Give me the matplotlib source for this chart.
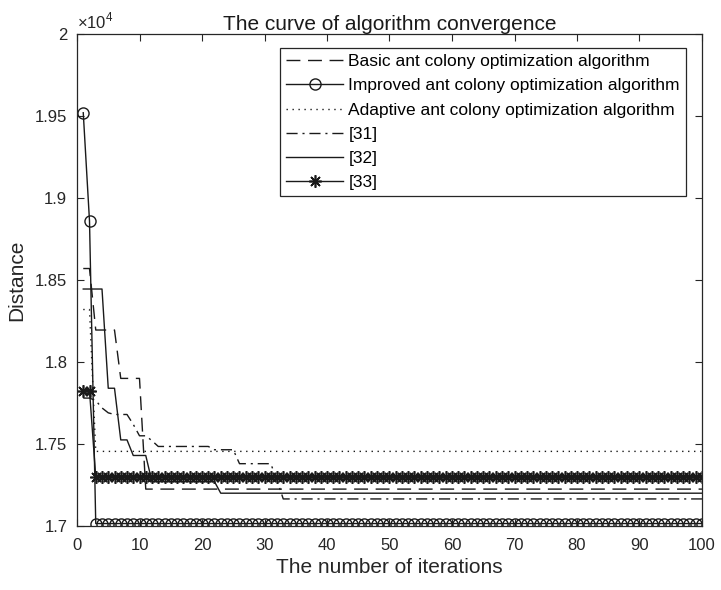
import matplotlib
matplotlib.use("Agg")
import matplotlib.pyplot as plt
from matplotlib.ticker import FixedLocator

plt.rcParams['font.family'] = ['Liberation Sans', 'DejaVu Sans']
plt.rcParams['mathtext.fontset'] = 'custom'
plt.rcParams['mathtext.rm'] = 'Liberation Sans'

# ---- data (distance values) ----
iterations = list(range(1, 101))
basic = [18570, 18570, 18195, 18195, 18195, 18195, 17900, 17900, 17900, 17900] + [17225] * 90
improved = [19520, 18860] + [17015] * 98
adaptive = [18320, 18320] + [17455] * 98
ref31 = ([17780, 17780, 17765, 17720, 17690, 17680, 17680, 17680, 17620, 17550, 17550, 17520]
         + [17485] * 9 + [17465] * 4 + [17380] * 6 + [17280] + [17165] * 68)
ref32 = [18445] * 4 + [17840] * 2 + [17525] * 2 + [17430] * 3 + [17270] * 11 + [17200] * 78
ref33 = [17825, 17825] + [17300] * 98

labels = ['Basic ant colony optimization algorithm',
          'Improved ant colony optimization algorithm',
          'Adaptive ant colony optimization algorithm',
          '[31]', '[32]', '[33]']

y_ticks = [1.7, 1.75, 1.8, 1.85, 1.9, 1.95, 2.0]
y_ticklabels = ['1.7', '1.75', '1.8', '1.85', '1.9', '1.95', '2']
x_ticks = [0, 10, 20, 30, 40, 50, 60, 70, 80, 90, 100]

scale = 1e4
fig = plt.figure(figsize=(7.21, 5.90), dpi=100)
ax = fig.add_axes([77/721, 64/590, 625/721, 492/590])

col = '#1a1a1a'
lw = 1.0
ax.plot(iterations, [v/scale for v in basic], linestyle=(0, (10, 5.5)), color=col, lw=lw, label=labels[0])
ax.plot(iterations, [v/scale for v in improved], '-', color=col, lw=lw, marker='o', ms=8,
        mfc='none', mec=col, mew=1.0, label=labels[1])
ax.plot(iterations, [v/scale for v in adaptive], linestyle=(0, (1, 3.3)), color=col, lw=lw, label=labels[2])
ax.plot(iterations, [v/scale for v in ref31], linestyle=(0, (8, 3.5, 1.5, 3.5)), color=col, lw=lw, label=labels[3])
ax.plot(iterations, [v/scale for v in ref32], '-', color=col, lw=lw, label=labels[4])
ax.plot(iterations, [v/scale for v in ref33], '-', color=col, lw=lw, marker=(8, 2, 0), ms=9,
        mec=col, mew=1.2, label=labels[5])

ax.set_xlim(0, 100)
ax.set_ylim(1.7, 2.0)
ax.xaxis.set_major_locator(FixedLocator(x_ticks))
ax.set_yticks(y_ticks)
ax.set_yticklabels(y_ticklabels)
ax.tick_params(direction='in', length=5, width=0.8, top=True, right=True, labelsize=12,
               colors='#262626')
ax.tick_params(axis='x', pad=9)
ax.tick_params(axis='y', pad=7)
for s in ax.spines.values():
    s.set_color('#262626')
    s.set_linewidth(0.9)

ax.set_xlabel('The number of iterations', fontsize=15, color='#262626', labelpad=3)
ax.set_ylabel('Distance', fontsize=15, color='#262626', labelpad=6)
ax.set_title('The curve of algorithm convergence', fontsize=15, color='#1a1a1a', pad=3)
ax.text(0.0, 1.006, '×10$^{4}$', transform=ax.transAxes, fontsize=12, color='#262626',
        ha='left', va='bottom')

leg = ax.legend(loc='upper right', bbox_to_anchor=(0.9744, 0.9715), borderaxespad=0,
                fontsize=12.5, handlelength=3.3, handletextpad=0.3, labelspacing=0.52,
                borderpad=0.35, fancybox=False, framealpha=1, edgecolor='#262626')
leg.get_frame().set_linewidth(0.9)

fig.savefig('out.png', dpi=100)
